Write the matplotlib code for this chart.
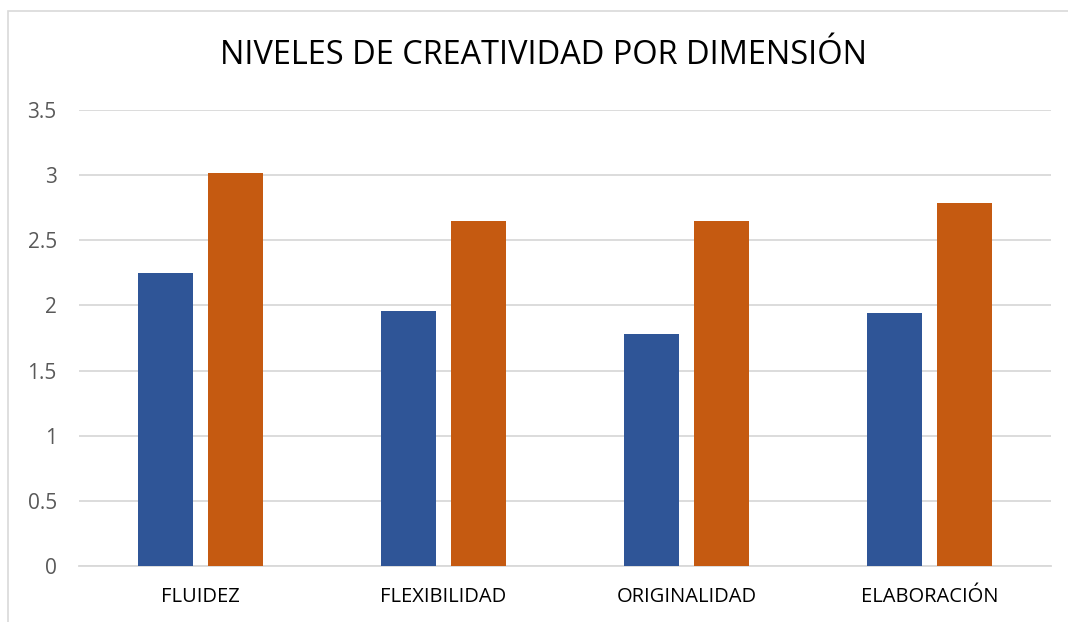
import matplotlib
matplotlib.use("Agg")
import matplotlib.pyplot as plt
import numpy as np
from matplotlib.patches import Rectangle

categorias = ["FLUIDEZ", "FLEXIBILIDAD", "ORIGINALIDAD", "ELABORACIÓN"]
serie_1 = [2.25, 1.96, 1.78, 1.94]
serie_2 = [3.02, 2.65, 2.65, 2.79]
yticks = [0, 0.5, 1, 1.5, 2, 2.5, 3, 3.5]
ytick_labels = ["0", "0.5", "1", "1.5", "2", "2.5", "3", "3.5"]

AZUL = "#2F5597"
NARANJA = "#C55A11"
GRID = "#D9D9D9"

plt.rcParams["font.family"] = ["Open Sans", "DejaVu Sans"]

fig = plt.figure(figsize=(10.68, 6.22), dpi=100)
fig.patch.set_facecolor("white")
# chart border (only left/top visible in the reference)
fig.add_artist(Rectangle((8 / 1068, -0.05), 1.2, 1 - 11 / 622 + 0.05,
                         transform=fig.transFigure, fill=False,
                         edgecolor=GRID, lw=1.2))

ax = fig.add_axes([79 / 1068, 1 - 566 / 622, (1051 - 79) / 1068, (566 - 110) / 622])
x = np.arange(len(categorias))
w = 0.226
ax.bar(x - 0.143, serie_1, w, color=AZUL, zorder=3)
ax.bar(x + 0.143, serie_2, w, color=NARANJA, zorder=3)

ax.set_xlim(-0.5, len(categorias) - 0.5)
ax.set_ylim(0, 3.5)
ax.set_yticks(yticks)
ax.set_yticklabels(ytick_labels)
ax.set_xticks(x)
ax.set_xticklabels(categorias)
ax.yaxis.grid(True, color=GRID, lw=1.3, zorder=0)
ax.set_axisbelow(True)
for sp in ["top", "right", "left"]:
    ax.spines[sp].set_visible(False)
ax.spines["bottom"].set_color(GRID)
ax.spines["bottom"].set_linewidth(1.3)
ax.tick_params(axis="y", length=0, labelsize=15, colors="#595959", pad=16)
ax.tick_params(axis="x", length=0, labelsize=14.5, colors="#000000", pad=15)

fig.text(543 / 1068, 1 - 56 / 622, "NIVELES DE CREATIVIDAD POR DIMENSIÓN",
         ha="center", va="center", fontsize=23.4, color="#000000")

fig.savefig("out.png", dpi=100, facecolor="white")
